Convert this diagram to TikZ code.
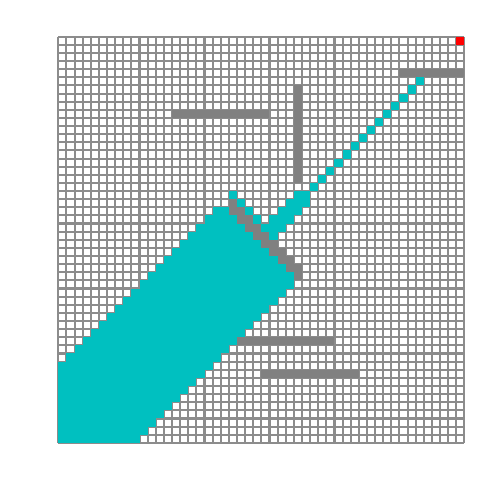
\documentclass[tikz,border=0pt]{standalone}
\usetikzlibrary{calc}
\definecolor{cyanc}{RGB}{0,192,192}
\definecolor{obst}{RGB}{128,128,128}
\definecolor{gridc}{RGB}{140,140,140}
\definecolor{goalc}{RGB}{255,0,0}
\tikzset{
  gridline/.style={draw=gridc, line width=2.2pt},
  seen/.style={fill=cyanc},
  wall/.style={fill=obst},
  goal/.style={fill=goalc}
}
\newcommand{\cellrow}[4]{\fill[#4] (#1,#3) rectangle ({#2+1},{#3+1});}
\begin{document}
\begin{tikzpicture}[x=0.3cm,y=-0.3cm]
\useasboundingbox[fill=white] (-7.18,-4.52) rectangle (54.38,57.04);
% grid
\foreach \i in {0,...,50} {
  \draw[gridline] (\i,0) -- (\i,50);
  \draw[gridline] (0,\i) -- (50,\i);
}
% explored cells: lower blob
\foreach \r in {30,...,49} {
  \pgfmathtruncatemacro\a{max(0,40-\r)}
  \pgfmathtruncatemacro\b{58-\r}
  \cellrow{\a}{\b}{\r}{seen}
}
\foreach \r in {20,...,29} {
  \pgfmathtruncatemacro\a{40-\r}
  \pgfmathtruncatemacro\b{\r-1}
  \cellrow{\a}{\b}{\r}{seen}
}
\cellrow{21}{21}{19}{seen}
% right of the diagonal wall
\foreach \r in {20,...,24} {
  \pgfmathtruncatemacro\a{\r+2}
  \cellrow{\a}{\a}{\r}{seen}
  \pgfmathtruncatemacro\c{max(\r+2,48-\r)}
  \pgfmathtruncatemacro\d{50-\r}
  \cellrow{\c}{\d}{\r}{seen}
}
\cellrow{29}{30}{19}{seen}
% thin diagonal
\foreach \r in {5,...,18} {
  \pgfmathtruncatemacro\a{49-\r}
  \cellrow{\a}{\a}{\r}{seen}
}
% walls
\cellrow{42}{49}{4}{wall}
\cellrow{14}{25}{9}{wall}
\fill[wall] (29,6) rectangle (30,18);
\cellrow{22}{33}{37}{wall}
\cellrow{25}{36}{41}{wall}
\foreach \c in {21,...,29} {
  \fill[wall] (\c,{\c-1}) rectangle ({\c+1},{\c+1});
}
% goal
\cellrow{49}{49}{0}{goal}
\end{tikzpicture}
\end{document}
